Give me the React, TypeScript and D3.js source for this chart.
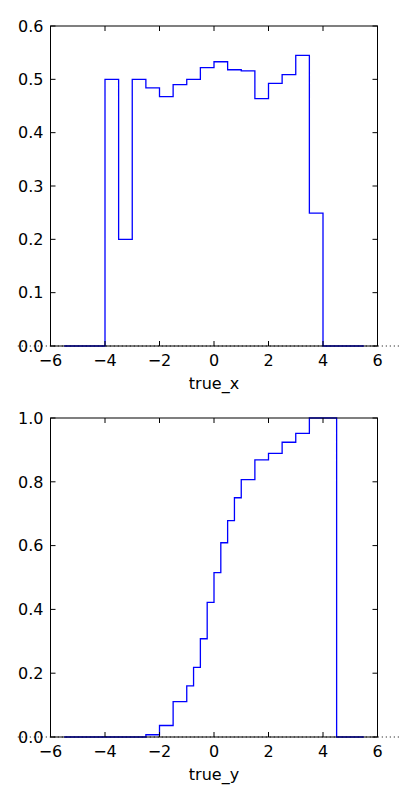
import React from "react";
import * as d3 from "d3";

const xTicks = [-6, -4, -2, 0, 2, 4, 6];

const edgesTop = [-5.5, -5, -4.5, -4, -3.5, -3, -2.5, -2, -1.5, -1, -0.5, 0, 0.5, 1, 1.5, 2, 2.5, 3, 3.5, 4, 4.5, 5, 5.5];
const valuesTop = [0, 0, 0, 0.5, 0.2, 0.5, 0.484, 0.4675, 0.49, 0.5, 0.522, 0.533, 0.518, 0.516, 0.464, 0.4925, 0.509, 0.545, 0.249, 0, 0, 0];
const yTicksTop = [0, 0.1, 0.2, 0.3, 0.4, 0.5, 0.6];

const edgesBottom = [-5.5, -5, -4.5, -4, -3.5, -3, -2.5, -2, -1.5, -1, -0.75, -0.5, -0.25, 0, 0.25, 0.5, 0.75, 1, 1.5, 2, 2.5, 3, 3.5, 4, 4.5, 5, 5.5];
const valuesBottom = [0, 0, 0, 0, 0, 0, 0.007, 0.036, 0.111, 0.16, 0.218, 0.308, 0.422, 0.515, 0.609, 0.678, 0.75, 0.807, 0.869, 0.889, 0.924, 0.952, 1.0, 1.0, 0, 0];
const yTicksBottom = [0, 0.2, 0.4, 0.6, 0.8, 1.0];

const FONT = "'DejaVu Sans', sans-serif";
const FS = 16;

function fmt(v: number) {
  return v.toFixed(1);
}
function fmtX(v: number) {
  return v < 0 ? "\u2212" + Math.abs(v) : String(v);
}

function Panel({ top, bottom, edges, values, yTicks, yMax, label }: any) {
  const left = 50.5;
  const right = 377.5;
  const x = d3.scaleLinear().domain([-6, 6]).range([left, right]);
  const y = d3.scaleLinear().domain([0, yMax]).range([bottom, top]);
  const pts: [number, number][] = [[edges[0], 0]];
  values.forEach((v: number, i: number) => {
    pts.push([edges[i], v]);
    pts.push([edges[i + 1], v]);
  });
  pts.push([edges[edges.length - 1], 0]);
  const line = d3.line<[number, number]>().x((d) => x(d[0])).y((d) => y(d[1]));
  const tl = 5;
  return (
    <g>
      <line x1={x(-7.2)} x2={x(7.8)} y1={y(0)} y2={y(0)} stroke="#000" strokeWidth={1} strokeDasharray="1,3" />
      <path d={line(pts) || ""} fill="none" stroke="#0000ff" strokeWidth={1.3} />
      {xTicks.map((t) => (
        <g key={"x" + t}>
          <line x1={x(t)} x2={x(t)} y1={bottom} y2={bottom - tl} stroke="#000" />
          <line x1={x(t)} x2={x(t)} y1={top} y2={top + tl} stroke="#000" />
          <text x={x(t)} y={bottom + 20} textAnchor="middle" fontFamily={FONT} fontSize={FS}>{fmtX(t)}</text>
        </g>
      ))}
      {yTicks.map((t: number) => (
        <g key={"y" + t}>
          <line x1={left} x2={left + tl} y1={y(t)} y2={y(t)} stroke="#000" />
          <line x1={right} x2={right - tl} y1={y(t)} y2={y(t)} stroke="#000" />
          <text x={left - 7} y={y(t)} dy="0.36em" textAnchor="end" fontFamily={FONT} fontSize={FS}>{fmt(t)}</text>
        </g>
      ))}
      <rect x={left} y={top} width={right - left} height={bottom - top} fill="none" stroke="#000" strokeWidth={1} />
      <text x={(left + right) / 2} y={bottom + 43} textAnchor="middle" fontFamily={FONT} fontSize={FS}>{label}</text>
    </g>
  );
}

export default function App() {
  return (
    <svg width={400} height={800} style={{ position: "absolute", left: 0, top: 0, background: "#fff" }}>
      <rect width={400} height={800} fill="#fff" />
      <Panel top={26} bottom={346} edges={edgesTop} values={valuesTop} yTicks={yTicksTop} yMax={0.6} label="true_x" />
      <Panel top={418} bottom={737} edges={edgesBottom} values={valuesBottom} yTicks={yTicksBottom} yMax={1.0} label="true_y" />
    </svg>
  );
}
